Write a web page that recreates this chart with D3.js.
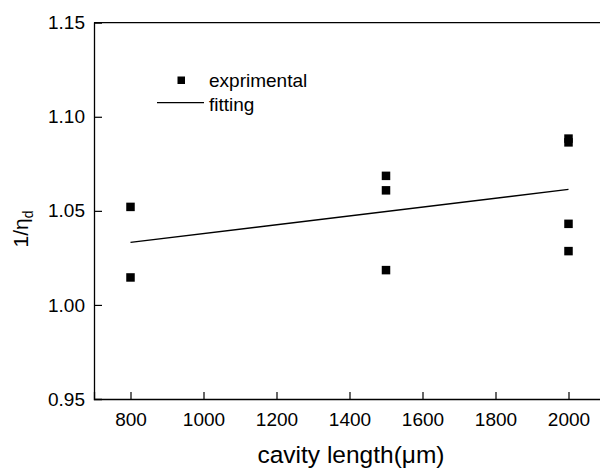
<!DOCTYPE html>
<meta charset="utf-8">
<script src="https://d3js.org/d3.v7.min.js"></script>
<style>
  body { margin: 0; background: #fff; }
  text { font-family: "Liberation Sans", Arial, sans-serif; fill: #000; }
</style>
<div id="my_dataviz"></div>
<script>

    // data
    var lengthsX = [800, 800, 1500, 1500, 1500, 2000, 2000, 2000, 2000];
    var invEta   = [1.0521, 1.0146, 1.0686, 1.0609, 1.0185, 1.0884, 1.0864, 1.0431, 1.0286];
    var fitX = [800, 2000];
    var fitY = [1.0332, 1.0614];
    var xTicks = [800, 1000, 1200, 1400, 1600, 1800, 2000];
    var yTicks = [0.95, 1.00, 1.05, 1.10, 1.15];

    var margin = {top: 22.7, left: 94},
        width = 511,
        height = 376.3;

    var svg = d3.select("#my_dataviz")
        .append("svg")
        .attr("width", 600)
        .attr("height", 471)
        .append("g")
        .attr("transform", "translate(" + margin.left + "," + margin.top + ")");

    var x = d3.scaleLinear().domain([700, 2100]).range([0, width]);
    var y = d3.scaleLinear().domain([0.95, 1.15]).range([height, 0]);

    // X axis, ticks pointing inward
    var xAxis = svg.append("g")
        .attr("transform", "translate(0," + height + ")")
        .call(d3.axisBottom(x).tickValues(xTicks).tickSize(-7).tickPadding(13.5).tickFormat(d3.format("d")));
    xAxis.selectAll("text").style("font-size", "19px").attr("dy", "0.71em");

    // Y axis
    var yAxis = svg.append("g")
        .call(d3.axisLeft(y).tickValues(yTicks).tickSize(-8).tickPadding(9).tickFormat(d3.format(".2f")));
    yAxis.selectAll("text").style("font-size", "19px");
    yAxis.selectAll(".tick").filter(function (d) { return d == 0.95 || d == 1.15; }).select("line").remove();

    svg.selectAll(".domain").attr("stroke", "#000").attr("stroke-width", 1.3);
    svg.selectAll(".tick line").attr("stroke", "#000").attr("stroke-width", 1.2);
    svg.selectAll(".tick text").style("font-family", "'Liberation Sans', Arial, sans-serif");

    // frame top + right
    svg.append("path")
        .attr("d", "M0,0H" + width + "V" + height)
        .attr("fill", "none")
        .attr("stroke", "#000")
        .attr("stroke-width", 1.3);

    // fitting line
    var line = d3.line()
        .x(function (d, i) { return x(fitX[i]); })
        .y(function (d) { return y(d); });
    svg.append("path")
        .datum(fitY)
        .attr("d", line)
        .attr("fill", "none")
        .attr("stroke", "#000")
        .attr("stroke-width", 1.3);

    // points
    var sq = 8.5;
    svg.append("g")
        .selectAll("rect")
        .data(invEta)
        .enter()
        .append("rect")
        .attr("x", function (d, i) { return x(lengthsX[i]) - sq / 2; })
        .attr("y", function (d) { return y(d) - sq / 2; })
        .attr("width", sq)
        .attr("height", sq)
        .attr("fill", "#000");

    // legend
    var leg = svg.append("g").attr("transform", "translate(" + (-margin.left) + "," + (-margin.top) + ")");
    leg.append("rect").attr("x", 177.5).attr("y", 76.5).attr("width", 7.5).attr("height", 7.5).attr("fill", "#000");
    leg.append("text").attr("x", 209).attr("y", 87).style("font-size", "19px").text("exprimental");
    leg.append("line").attr("x1", 157).attr("x2", 204).attr("y1", 102.7).attr("y2", 102.7)
        .attr("stroke", "#000").attr("stroke-width", 1.3);
    leg.append("text").attr("x", 209).attr("y", 111).style("font-size", "19px").text("fitting");

    // X axis label
    svg.append("text")
        .attr("text-anchor", "middle")
        .attr("x", 351 - margin.left)
        .attr("y", 462.7 - margin.top)
        .style("font-size", "24.5px")
        .text("cavity length(\u03bcm)");

    // Y axis label
    var yl = svg.append("text")
        .attr("text-anchor", "middle")
        .attr("transform", "translate(" + (28 - margin.left) + "," + (229 - margin.top) + ") rotate(-90)")
        .style("font-size", "21px");
    yl.append("tspan").text("1/\u03b7");
    yl.append("tspan").attr("dy", "0.35em").style("font-size", "14px").text("d");

</script>
